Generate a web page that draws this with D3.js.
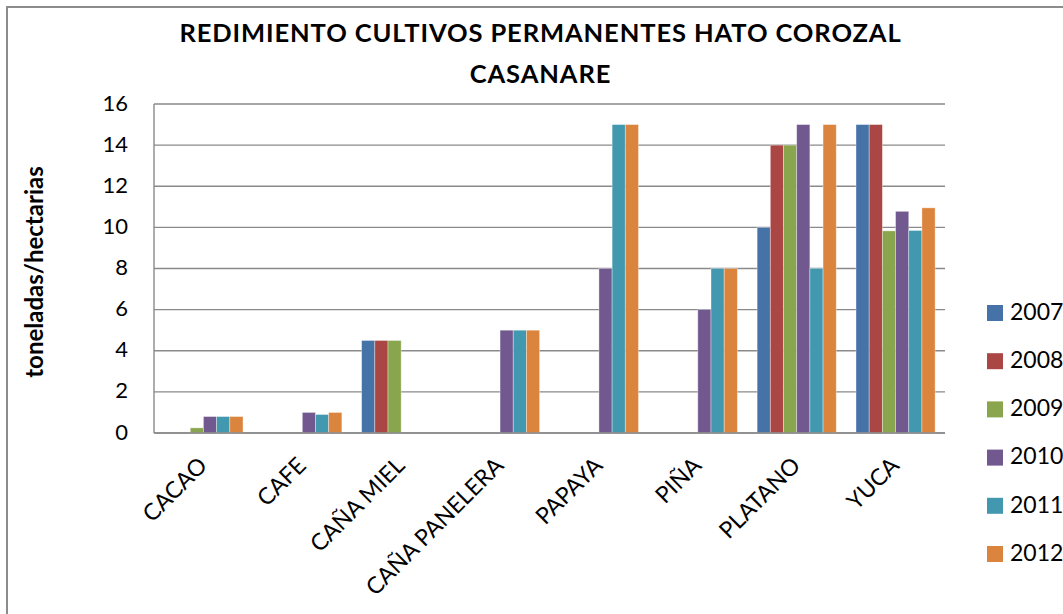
<!DOCTYPE html>
<html>
<head>
<meta charset="utf-8">
<script src="https://cdn.jsdelivr.net/npm/d3@7"></script>
<style>
  html, body { margin: 0; padding: 0; background: #fff; }
  svg { display: block; }
  text { font-family: Lato, "Open Sans", sans-serif; fill: #000; }
</style>
</head>
<body>
<svg id="chart" width="1063" height="614"></svg>
<script>
const categories = ["CACAO", "CAFE", "CAÑA MIEL", "CAÑA PANELERA", "PAPAYA", "PIÑA", "PLATANO", "YUCA"];
const years = ["2007", "2008", "2009", "2010", "2011", "2012"];
const v2007 = [0, 0, 4.5, 0, 0, 0, 10, 15];
const v2008 = [0, 0, 4.5, 0, 0, 0, 14, 15];
const v2009 = [0.25, 0, 4.5, 0, 0, 0, 14, 9.83];
const v2010 = [0.8, 1, 0, 5, 8, 6, 15, 10.78];
const v2011 = [0.8, 0.9, 0, 5, 15, 8, 8, 9.85];
const v2012 = [0.8, 1, 0, 5, 15, 8, 15, 10.95];
const seriesValues = [v2007, v2008, v2009, v2010, v2011, v2012];
const colors = ["#4572A7", "#AA4643", "#89A54E", "#71588F", "#4198AF", "#DB843D"];
const yTicks = [0, 2, 4, 6, 8, 10, 12, 14, 16];
const titleLines = ["REDIMIENTO CULTIVOS PERMANENTES HATO COROZAL", "CASANARE"];
const yTitle = "toneladas/hectarias";

const svg = d3.select("#chart");
const plot = { left: 154, right: 945, top: 104, bottom: 433 };

// outer chart border
svg.append("path")
  .attr("d", `M7,620 L7,7 L1070,7`)
  .attr("fill", "none").attr("stroke", "#8c8c8c").attr("stroke-width", 2);

const x0 = d3.scaleBand().domain(categories).range([plot.left, plot.right]).paddingInner(0).paddingOuter(0);
const gapFrac = 1.5 / 7.5 / 2;
const x1 = d3.scaleBand().domain(years)
  .range([x0.bandwidth() * gapFrac, x0.bandwidth() * (1 - gapFrac)]).padding(0);
const y = d3.scaleLinear().domain([0, 16]).range([plot.bottom, plot.top]);

// gridlines
svg.append("g").selectAll("line").data(yTicks).join("line")
  .attr("x1", plot.left).attr("x2", plot.right)
  .attr("y1", d => y(d)).attr("y2", d => y(d))
  .attr("stroke", "#8a8a8a").attr("stroke-width", 1.4);

// y axis line
svg.append("line").attr("x1", plot.left).attr("x2", plot.left)
  .attr("y1", plot.top).attr("y2", plot.bottom)
  .attr("stroke", "#8a8a8a").attr("stroke-width", 1.4);

// bars
const rows = [];
categories.forEach((c, i) => years.forEach((yr, j) => rows.push({ c, yr, v: seriesValues[j][i], color: colors[j] })));
svg.append("g").selectAll("rect").data(rows.filter(d => d.v > 0)).join("rect")
  .attr("x", d => x0(d.c) + x1(d.yr))
  .attr("y", d => y(d.v))
  .attr("width", x1.bandwidth())
  .attr("height", d => y(0) - y(d.v))
  .attr("fill", d => d.color)
  .attr("stroke", "rgba(255,255,255,0.45)").attr("stroke-width", 0.8);

// bottom axis line
svg.append("line").attr("x1", plot.left).attr("x2", plot.right)
  .attr("y1", y(0)).attr("y2", y(0))
  .attr("stroke", "#8a8a8a").attr("stroke-width", 1.6);

// y tick labels
svg.append("g").selectAll("text").data(yTicks).join("text")
  .attr("x", 128).attr("y", d => y(d) + 1)
  .attr("text-anchor", "end").attr("dominant-baseline", "middle")
  .style("font-size", "22px")
  .text(d => d);

// x labels
svg.append("g").selectAll("text").data(categories).join("text")
  .attr("transform", d => `translate(${x0(d) + x0.bandwidth() / 2 + 5},${467}) rotate(-45)`)
  .attr("text-anchor", "end")
  .style("font-size", "23px")
  .text(d => d);

// y title
svg.append("text")
  .attr("transform", `translate(43,272) rotate(-90)`)
  .attr("text-anchor", "middle")
  .style("font-size", "24px").style("font-weight", "bold")
  .text(yTitle);

// title
const title = svg.append("g");
titleLines.forEach((t, i) => {
  title.append("text")
    .attr("x", 540.5).attr("y", 42 + i * 41)
    .attr("text-anchor", "middle")
    .style("font-size", "25.5px").style("font-weight", "bold")
    .style("letter-spacing", "0.9px")
    .text(t);
});

// legend
const legend = svg.append("g");
years.forEach((yr, j) => {
  const cy = 313 + j * 48.2;
  legend.append("rect").attr("x", 987).attr("y", cy - 8).attr("width", 16).attr("height", 16).attr("fill", colors[j]);
  legend.append("text").attr("x", 1010).attr("y", cy + 1)
    .attr("dominant-baseline", "middle").style("font-size", "23px").text(yr);
});
</script>
</body>
</html>
